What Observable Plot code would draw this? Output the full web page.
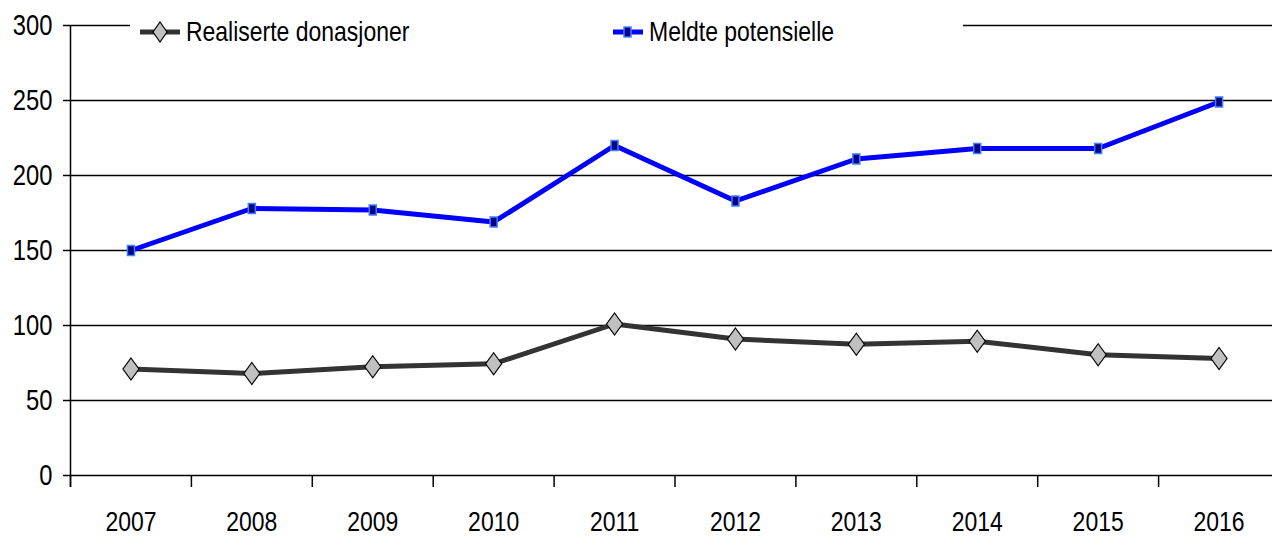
<!DOCTYPE html>
<html>
<head>
<meta charset="utf-8">
<script src="https://cdn.jsdelivr.net/npm/d3@7"></script>
<script src="https://cdn.jsdelivr.net/npm/@observablehq/plot@0.6"></script>
<style>
  body { margin: 0; background: #fff; }
  #wrap { position: relative; width: 1272px; height: 539px; overflow: hidden; font-family: "Liberation Sans", Arial, sans-serif; }
  #legend { position: absolute; left: 130px; top: 14px; width: 833px; height: 36px; background: #fff; font-size: 28px; color: #000; }
  .item { position: absolute; top: 0; display: flex; align-items: center; height: 36px; white-space: nowrap; }
  .item svg { margin-right: 6px; }
  .item span { display: inline-block; transform: scaleX(0.82); transform-origin: left center; }
</style>
</head>
<body>
<div id="wrap">
  <div id="chart"></div>
  <div id="legend">
    <div class="item" style="left:10px">
      <svg width="40" height="24"><line x1="0" y1="12" x2="40" y2="12" stroke="#333" stroke-width="5"/><path d="M20,2 L27,12 L20,22 L13,12 Z" fill="#c0c0c0" stroke="#000" stroke-width="1.2"/></svg>
      <span>Realiserte donasjoner</span>
    </div>
    <div class="item" style="left:483px">
      <svg width="30" height="24"><line x1="0" y1="12" x2="30" y2="12" stroke="#0000ff" stroke-width="5"/><rect x="11" y="7" width="7" height="10" fill="#000080" stroke="#3f7fff" stroke-width="1.5"/></svg>
      <span>Meldte potensielle</span>
    </div>
  </div>
</div>
<script>
const years = ["2007","2008","2009","2010","2011","2012","2013","2014","2015","2016"];
const realiserte = [71, 68, 72.5, 74.5, 101, 91, 87.5, 89.5, 80.5, 78];
const meldte = [150, 178, 177, 169, 220, 183, 211, 218, 218, 249];
const yTicks = [0, 50, 100, 150, 200, 250, 300];

const dataR = years.map((y, i) => ({i: i + 0.5, year: y, v: realiserte[i]}));
const dataM = years.map((y, i) => ({i: i + 0.5, year: y, v: meldte[i]}));

const diamond = {draw(ctx) { ctx.moveTo(0, -11); ctx.lineTo(8, 0); ctx.lineTo(0, 11); ctx.lineTo(-8, 0); ctx.closePath(); }};
const square = {draw(ctx) { ctx.rect(-3.5, -5, 7, 10); }};

const font = '"Liberation Sans", Arial, sans-serif';

const chart = Plot.plot({
  width: 1272,
  height: 539,
  marginLeft: 70,
  marginRight: -7,
  marginTop: 25,
  marginBottom: 64,
  style: {fontFamily: font, background: "#fff", color: "#000"},
  x: {type: "linear", domain: [0, 10]},
  y: {domain: [0, 300]},
  marks: [
    Plot.ruleY(yTicks, {stroke: "#000", strokeWidth: 1.5}),
    Plot.axisY(yTicks, {tickSize: 7, tickPadding: 11, fontSize: 29, stroke: "#000", strokeWidth: 1.5, label: null}),
    Plot.ruleX([0], {y1: -8, y2: 300, stroke: "#000", strokeWidth: 1.5}),
    Plot.axisX(d3.range(0, 11), {tickSize: 12, tickFormat: () => "", stroke: "#000", strokeWidth: 1.5, label: null}),
    Plot.axisX(dataR.map(d => d.i), {tickSize: 0, tickPadding: 36, fontSize: 28, tickFormat: (d, k) => years[k], label: null}),
    Plot.line(dataM, {x: "i", y: "v", stroke: "#0000ff", strokeWidth: 5}),
    Plot.dot(dataM, {x: "i", y: "v", symbol: square, fill: "#000080", stroke: "#3f7fff", strokeWidth: 1.5}),
    Plot.line(dataR, {x: "i", y: "v", stroke: "#333333", strokeWidth: 5}),
    Plot.dot(dataR, {x: "i", y: "v", symbol: diamond, fill: "#c0c0c0", stroke: "#000", strokeWidth: 1.2})
  ]
});
// narrow the glyphs (Arial Narrow look) around each text's anchor point
chart.querySelectorAll("text").forEach(t => {
  const x = parseFloat(t.getAttribute("x")) || 0;
  const tr = t.getAttribute("transform") || "";
  t.setAttribute("transform", `${tr} translate(${x},0) scale(0.82,1) translate(${-x},0)`);
});
document.getElementById("chart").appendChild(chart);
</script>
</body>
</html>
